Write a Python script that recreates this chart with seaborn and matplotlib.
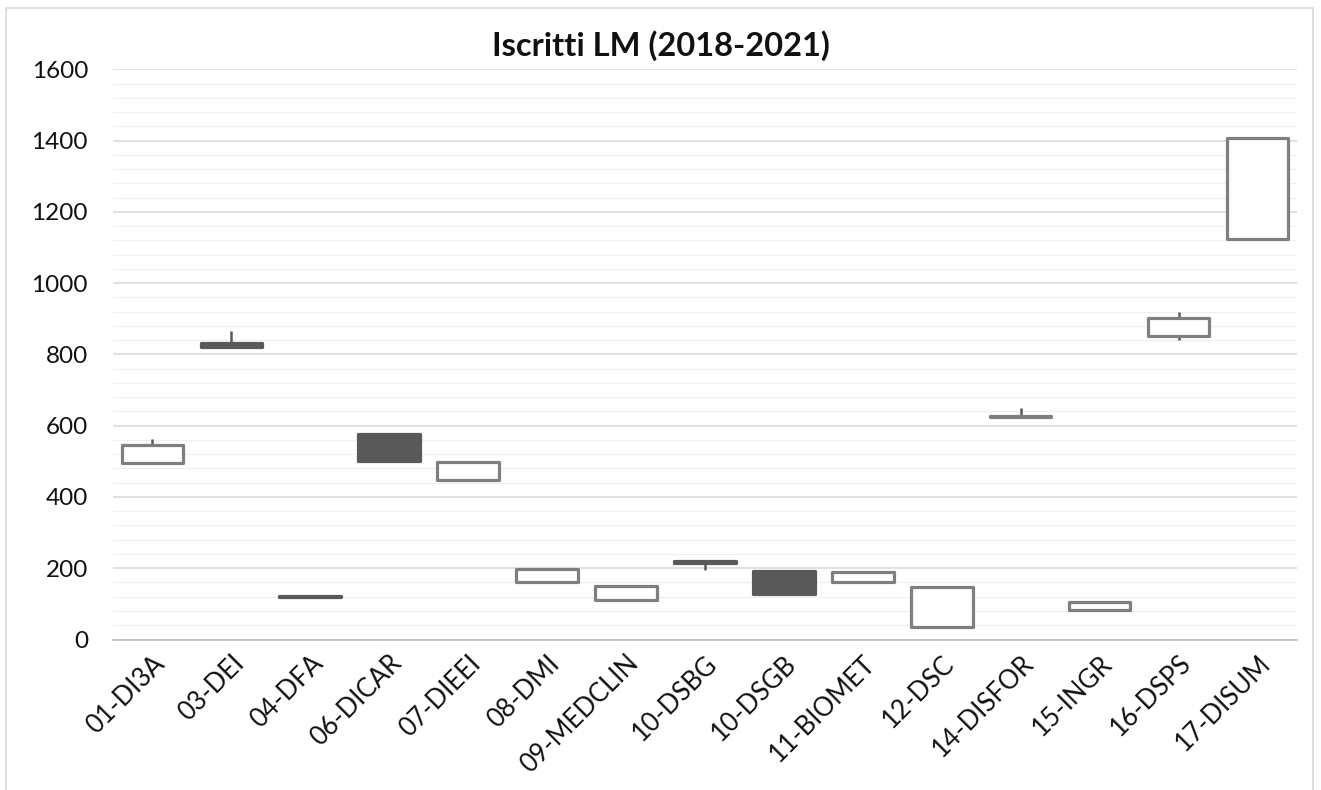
import numpy as np
import pandas as pd
import seaborn as sns
import matplotlib.pyplot as plt
from matplotlib.patches import Rectangle

# dati: iscritti LM, 2018 (apertura) e 2021 (chiusura), max e min del periodo
dipartimenti = ["01-DI3A", "03-DEI", "04-DFA", "06-DICAR", "07-DIEEI", "08-DMI",
                "09-MEDCLIN", "10-DSBG", "10-DSGB", "11-BIOMET", "12-DSC",
                "14-DISFOR", "15-INGR", "16-DSPS", "17-DISUM"]
apertura = [494, 831, 122, 577, 448, 162, 110, 219, 192, 160, 34, 623, 83, 853, 1123]
chiusura = [547, 821, 118, 500, 497, 197, 150, 214, 129, 190, 148, 628, 104, 903, 1408]
massimo = [562, 865, 122, 577, 497, 197, 150, 222, 192, 190, 148, 649, 104, 920, 1408]
minimo = [494, 821, 118, 500, 448, 162, 110, 196, 129, 160, 34, 623, 83, 841, 1123]

df = pd.DataFrame({"Dip": dipartimenti, "Open": apertura, "Close": chiusura,
                   "High": massimo, "Low": minimo})
df["Base"] = df[["Open", "Close"]].min(axis=1)
df["Corpo"] = (df["Close"] - df["Open"]).abs()
df["Su"] = df["Close"] >= df["Open"]

sns.set_theme(style="white")
plt.rcParams["font.family"] = ["Lato", "DejaVu Sans"]

GRIGIO = "#7f7f7f"
SCURO = "#595959"

fig = plt.figure(figsize=(13.21, 7.9), dpi=100)
ax = fig.add_axes([0.0855, 0.1905, 0.8963, 0.7218])

# ombre (max-min)
ax.vlines(np.arange(len(df)), df["Low"], df["High"], color=SCURO, lw=1.8, zorder=2)

# corpi delle candele
sns.barplot(data=df, x="Dip", y="Corpo", bottom=df["Base"].to_numpy(), width=0.78,
            color="white", edgecolor=GRIGIO, linewidth=2.3, ax=ax, zorder=3)
for patch, su in zip(ax.patches, df["Su"]):
    patch.set_joinstyle("round")
    if su:
        patch.set_facecolor("white")
        patch.set_edgecolor(GRIGIO)
    else:
        patch.set_facecolor(SCURO)
        patch.set_edgecolor(SCURO)

ax.set_ylim(0, 1600)
ax.set_yticks(np.arange(0, 1601, 200))
ax.set_yticks(np.arange(0, 1601, 40), minor=True)
ax.grid(which="major", axis="y", color="#d9d9d9", lw=1.1)
ax.grid(which="minor", axis="y", color="#f0f0f0", lw=1.0)
ax.set_axisbelow(True)
for s in ["left", "right", "top"]:
    ax.spines[s].set_visible(False)
ax.spines["bottom"].set_color("#bfbfbf")
ax.spines["bottom"].set_linewidth(1.3)
ax.tick_params(which="both", length=0, labelsize=17.5, colors="#111111")
ax.tick_params(axis="y", pad=18)
ax.tick_params(axis="x", pad=8, labelsize=18.5)
ax.set_xlabel("")
ax.set_ylabel("")
plt.setp(ax.get_xticklabels(), rotation=45, ha="right", rotation_mode="anchor")

fig.text(0.5, 0.942, "Iscritti LM (2018-2021)", ha="center", va="center",
         fontsize=23.5, fontweight="bold", color="#111111")

# bordo del grafico
fig.add_artist(Rectangle((6 / 1321, -0.05), 1307 / 1321, 782 / 790 + 0.05,
                         transform=fig.transFigure, fill=False,
                         edgecolor="#d9d9d9", lw=1.2))

fig.savefig("out.png", dpi=100)
